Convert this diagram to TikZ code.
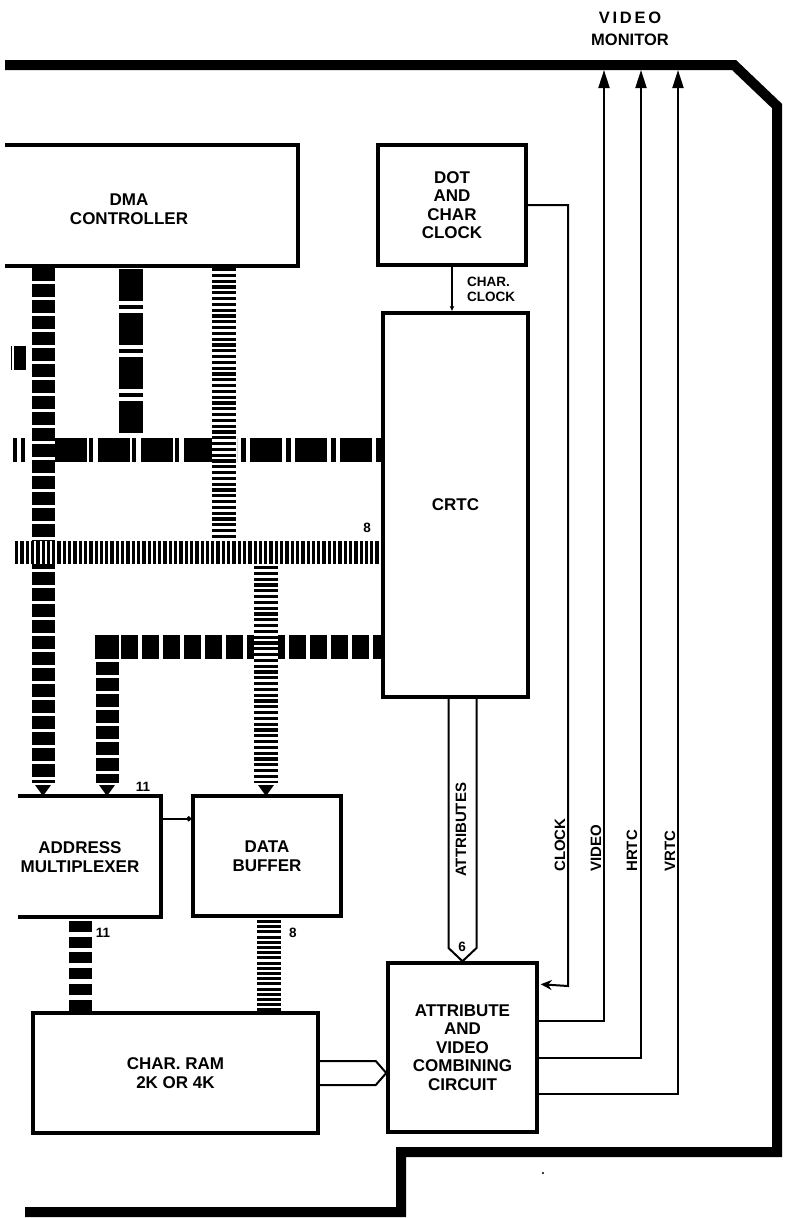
\documentclass[tikz,border=0pt]{standalone}
\usepackage{fontspec}
\setmainfont{Liberation Sans}
\usetikzlibrary{arrows.meta,calc}
\begin{document}
\begin{tikzpicture}[x=1pt,y=-1pt,
  boxline/.style={line width=3.5pt,line join=miter},
  blk/.style={draw,boxline,inner sep=0pt},
  btext/.style={font=\fontsize{17}{18.5}\selectfont\bfseries,align=center,inner sep=0pt},
  small/.style={font=\fontsize{13.5}{15}\selectfont\bfseries,inner sep=0pt},
  rlab/.style={font=\fontsize{15}{16}\selectfont\bfseries,inner sep=0pt,rotate=90,anchor=west},
  sig/.style={line width=2pt},
  outline/.style={line width=10pt,line join=miter},
  cbus/.style={line width=24pt},
  bbus/.style={line width=23pt},
  fbus/.style={line width=24pt},
  hbus/.style={line width=23pt},
  ctrlpat/.style={dash pattern=on 32pt off 4pt on 4pt off 4pt},
  blockpat/.style={dash pattern=on 13pt off 3pt},
  finepat/.style={dash pattern=on 3.2pt off 2.6pt},
  under/.style={white}
]
\fill[white] (0,0) rectangle (787,1218);
\useasboundingbox (0,0) rectangle (787,1218);

% outer frame
\draw[outline] (5,65) -- (734,65) -- (777,106) -- (777,1152) -- (401,1152) -- (401,1212) -- (25,1212);
\node[font=\fontsize{16.5}{22}\selectfont\bfseries,align=center,inner sep=0pt] (mon) at (630,29) {V\,I\,D\,E\,O\\MONITOR};

% boxes
\node[minimum width=293pt,minimum height=121pt,inner sep=0pt] (dma) at (151.5,205.5) {};
\draw[boxline] (dma.north west) -- (dma.north east) -- (dma.south east) -- (dma.south west);
\node[btext] (dmat) at (129,209) {DMA\\CONTROLLER};

\node[blk,btext,minimum width=148pt,minimum height=120pt] (clk) at (452,205) {DOT\\AND\\CHAR\\CLOCK};
\node[blk,btext,minimum width=145pt,minimum height=384pt] (crtc) at (455.5,505) {CRTC};

\node[minimum width=143pt,minimum height=121pt,inner sep=0pt] (amux) at (89.5,856.5) {};
\draw[boxline] (amux.north west) -- (amux.north east) -- (amux.south east) -- (amux.south west);
\node[btext] (amuxt) at (80,857) {ADDRESS\\MULTIPLEXER};

\node[blk,btext,minimum width=148pt,minimum height=120pt] (dbuf) at (267,856) {DATA\\BUFFER};
\node[blk,btext,minimum width=285pt,minimum height=120pt] (ram) at (175.5,1073) {CHAR.\ RAM\\2K OR 4K};
\node[blk,btext,minimum width=149pt,minimum height=169pt] (avc) at (462.5,1047.5) {ATTRIBUTE\\AND\\VIDEO\\COMBINING\\CIRCUIT};

% char clock
\draw[sig,-{Latex[length=5pt,width=5pt]}] (clk.south) -- (clk.south |- crtc.north);
\node[small,align=left,anchor=west] (cclab) at (467,289.5) {CHAR.\\CLOCK};

% clock to attribute box
\coordinate (clkin) at ($(avc.north east)+(2,23)$);
\coordinate (clkcorner) at (568,986);
\draw[sig,-{Stealth[length=11pt,width=10pt]}] (clk.east) -| (clkcorner) -- (clkin);

% outputs to monitor
\coordinate (vidtop) at (604,70);
\coordinate (hrtop) at (641,70);
\coordinate (vrtop) at (678,70);
\coordinate (vidout) at ($(avc.north east)+(0,60)$);
\coordinate (hrout) at ($(avc.north east)+(0,97)$);
\coordinate (vrout) at ($(avc.north east)+(0,133)$);
\draw[sig,-{Triangle[length=18pt,width=11pt]}] (vidout) -| (vidtop);
\draw[sig,-{Triangle[length=18pt,width=11pt]}] (hrout) -| (hrtop);
\draw[sig,-{Triangle[length=18pt,width=11pt]}] (vrout) -| (vrtop);

\node[rlab] (lclk) at (560,872) {CLOCK};
\node[rlab] (lvid) at (596,872) {VIDEO};
\node[rlab] (lhr) at (632,872) {HRTC};
\node[rlab] (lvr) at (670,872) {VRTC};
\node[rlab] (latt) at (461,877) {ATTRIBUTES};

% attributes bus (CRTC -> attribute box)
\coordinate (atL) at (448.5,697);
\coordinate (atR) at (476.5,697);
\coordinate (atLb) at (448.5,948);
\coordinate (atRb) at (476.5,948);
\draw[sig,line join=miter] (atL) -- (atLb) -- (avc.north) -- (atRb) -- (atR);
\node[small] (six) at (462,947) {6};

% char ram -> attribute box
\coordinate (rtip) at (avc.west |- ram.east);
\coordinate (r1) at ($(ram.east)+(0,-12)$);
\coordinate (r2) at ($(ram.east)+(56,-12)$);
\coordinate (r3) at ($(ram.east)+(56,12)$);
\coordinate (r4) at ($(ram.east)+(0,12)$);
\draw[sig,line join=miter] (r1) -- (r2) -- (rtip) -- (r3) -- (r4);

% address mux -> data buffer
\coordinate (lk1) at ($(amux.north east)+(0,23)$);
\draw[sig,-{Circle[length=5pt]}] (lk1) -- (lk1 -| dbuf.west);

% ---- buses ----
% horizontal control bus
\draw[cbus,dash pattern=on 4pt off 4pt] (13,450) -- (25,450);
\draw[cbus,dash pattern=on 32pt off 2pt on 4pt off 5pt] (55,450) -- (212,450);
\draw[cbus,dash pattern=on 5pt off 4pt on 32pt off 4pt] (381,450) -- (237,450);
% DMA middle control column
\draw[cbus,ctrlpat] (131,269) -- (131,436);
% DMA left block column -> address mux
\draw[bbus,under] (43,268) -- (43,783);
\draw[bbus,blockpat] (43,268) -- (43,783);
% DMA right fine column
\draw[fbus,under] (224,268) -- (224,540);
\draw[fbus,finepat] (224,268) -- (224,540);
% fine data bus horizontal
\draw[hbus,under] (15,552) -- (381,552);
\draw[hbus,dash pattern=on 3.3pt off 2pt] (15,552) -- (381,552);
\node[small] (n8a) at (367,528) {8};
% second block bus (CRTC -> address mux)
\fill (95,635) rectangle (119,659);
\draw[cbus,dash pattern=on 17pt off 4pt] (121,647) -- (381,647);
\draw[bbus,dash pattern=on 13pt off 3pt] (107,662) -- (107,783);
% fine column to data buffer
\draw[fbus,under] (266,566) -- (266,783);
\draw[fbus,finepat] (266,566) -- (266,783);
% bus arrowheads
\fill (35,785) -- (51,785) -- (43,796) -- cycle;
\fill (99,785) -- (115,785) -- (107,796) -- cycle;
\fill (258,785) -- (274,785) -- (266,796) -- cycle;
\node[small] (n11a) at (143,787) {11};
% lower buses
\draw[bbus,dash pattern=on 11pt off 4.7pt] (80,921) -- (80,1012);
\draw[fbus,dash pattern=on 3pt off 2.2pt] (269,920) -- (269,1012);
\node[small] (n11b) at (103,933) {11};
\node[small] (n8b) at (293,933) {8};
% stub at left
\fill (14,346) rectangle (26,370);
\draw[line width=1pt] (11,346) -- (11,370);
% speck
\fill (543,1173) circle (1.2pt);
\end{tikzpicture}
\end{document}
